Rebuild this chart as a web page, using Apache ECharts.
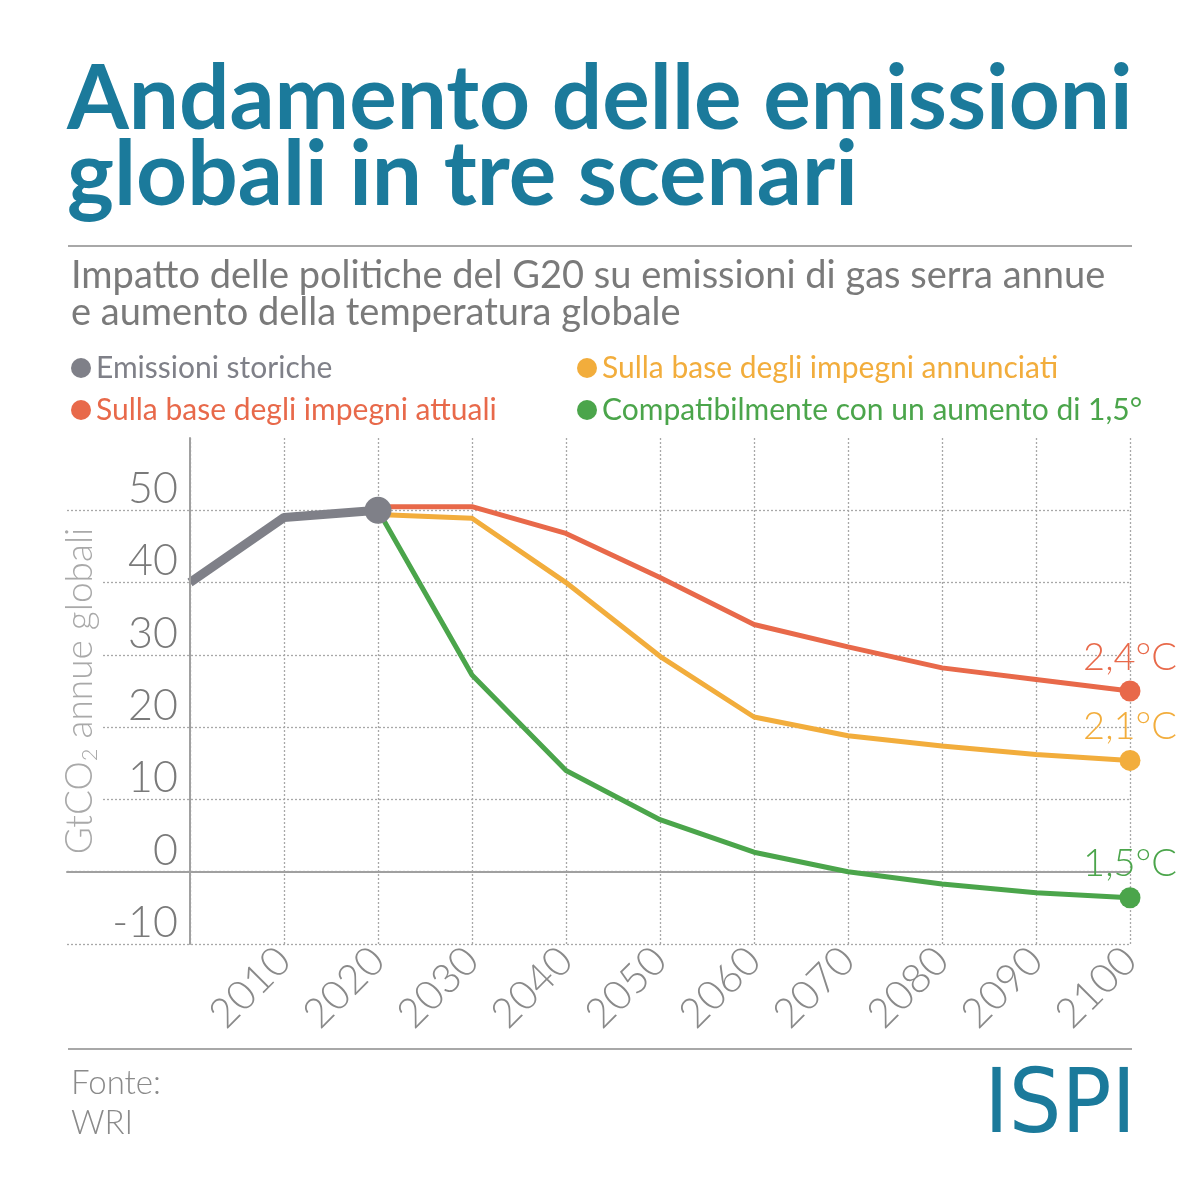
<!DOCTYPE html>
<html>
<head>
<meta charset="utf-8">
<script src="https://cdn.jsdelivr.net/npm/echarts@6/dist/echarts.min.js"></script>
<style>
html,body{margin:0;padding:0;background:#fff;}
#chart{width:1200px;height:1200px;}
</style>
</head>
<body>
<div id="chart"></div>
<script>
// ---- Data ----
const seriesNames = [
  'Emissioni storiche',
  'Sulla base degli impegni attuali',
  'Sulla base degli impegni annunciati',
  'Compatibilmente con un aumento di 1,5°'
];
const historicYears = [2000, 2010, 2020];
const historicValues = [40, 49, 50];
const scenarioYears = [2020, 2030, 2040, 2050, 2060, 2070, 2080, 2090, 2100];
const currentPolicies = [50.5, 50.5, 46.8, 40.7, 34.2, 31.1, 28.2, 26.6, 25.0];
const announcedPledges = [49.4, 48.9, 40.0, 29.8, 21.4, 18.8, 17.4, 16.2, 15.4];
const path15 = [50.0, 27.2, 14.0, 7.2, 2.7, 0.0, -1.7, -2.9, -3.6];
const endLabels = ['2,4°C', '2,1°C', '1,5°C'];
const xTicks = [2000, 2010, 2020, 2030, 2040, 2050, 2060, 2070, 2080, 2090, 2100];
const yTicks = [-10, 0, 10, 20, 30, 40, 50, 60];

// ---- Styling ----
const C = {
  grey: '#7f8088', red: '#e8694a', orange: '#f2ad3c', green: '#4ba54b',
  teal: '#1b7a9b', text: '#7a7a7a', light: '#a9a9a9', grid: '#a8a8a8'
};
const FONT = 'Lato, "Open Sans", sans-serif';

function pairs(xs, ys) { return xs.map((x, i) => [x, ys[i]]); }

function scenario(name, values, color, label) {
  const last = values.length - 1;
  return {
    name, type: 'line', xAxisIndex: 0, yAxisIndex: 0,
    data: pairs(scenarioYears, values),
    color,
    lineStyle: { width: 5, color },
    itemStyle: { color },
    symbol: 'circle', showAllSymbol: true,
    symbolSize: (v, p) => p.dataIndex === last ? 21 : 0,
    label: {
      show: true, position: 'top', distance: 4,
      formatter: p => p.dataIndex === last ? label : '',
      fontFamily: FONT, fontWeight: 300, fontSize: 38, color
    },
    emphasis: { disabled: true },
    z: 3
  };
}

const chart = echarts.init(document.getElementById('chart'), null, { renderer: 'canvas' });
const dotted = { type: [2, 2], width: 1.3, color: C.grid };
const legendText = { fontFamily: FONT, fontSize: 30, lineHeight: 28 };

const option = {
  backgroundColor: '#fff',
  animation: false,
  textStyle: { fontFamily: FONT },
  title: [
    {
      text: 'Andamento delle emissioni\nglobali in tre scenari',
      left: 62, top: 57,
      textStyle: { fontFamily: FONT, fontWeight: 'bold', fontSize: 89, lineHeight: 76, color: C.teal }
    },
    {
      text: 'Impatto delle politiche del G20 su emissioni di gas serra annue\ne aumento della temperatura globale',
      left: 66, top: 252,
      textStyle: { fontFamily: FONT, fontWeight: 'normal', fontSize: 38, lineHeight: 37, color: C.text }
    },
    {
      text: 'Fonte:\nWRI',
      left: 66, top: 1058,
      textStyle: { fontFamily: FONT, fontWeight: 300, fontSize: 33, lineHeight: 40, color: '#8a8a8a' }
    }
  ],
  legend: [
    {
      orient: 'vertical', left: 66, top: 348, itemGap: 12,
      icon: 'circle', itemWidth: 20, itemHeight: 20, itemStyle: { borderWidth: 0 }, selectedMode: false,
      textStyle: legendText,
      data: [
        { name: seriesNames[0], textStyle: { color: C.grey } },
        { name: seriesNames[1], textStyle: { color: C.red } }
      ]
    },
    {
      orient: 'vertical', left: 572, top: 348, itemGap: 12,
      icon: 'circle', itemWidth: 20, itemHeight: 20, itemStyle: { borderWidth: 0 }, selectedMode: false,
      textStyle: legendText,
      data: [
        { name: seriesNames[2], textStyle: { color: C.orange } },
        { name: seriesNames[3], textStyle: { color: C.green } }
      ]
    }
  ],
  grid: [
    { left: 190, right: 70, top: 438, bottom: 256, containLabel: false, outerBoundsMode: 'none' },
    { left: 67, right: 70, top: 438, bottom: 256, containLabel: false, outerBoundsMode: 'none' }
  ],
  xAxis: [
    {
      type: 'value', gridIndex: 0, min: xTicks[0], max: xTicks[xTicks.length - 1], interval: 10,
      axisLine: { show: false, onZero: false },
      axisTick: { show: false },
      splitLine: { show: true, lineStyle: dotted },
      axisLabel: {
        rotate: 45, margin: 10, showMinLabel: false,
        fontFamily: FONT, fontWeight: 300, fontSize: 41, color: '#8a8a8a',
        formatter: v => String(v)
      }
    },
    {
      type: 'value', gridIndex: 1, min: 0, max: 1,
      axisLine: { show: true, onZero: true, lineStyle: { color: '#a0a0a0', width: 2 } },
      axisTick: { show: false }, axisLabel: { show: false }, splitLine: { show: false }
    }
  ],
  yAxis: [
    {
      type: 'value', gridIndex: 0, min: yTicks[0], max: yTicks[yTicks.length - 1], interval: 10, z: 5,
      axisLine: { show: true, lineStyle: { color: '#a0a0a0', width: 2 } },
      axisTick: { show: false },
      splitLine: { show: false },
      axisLabel: {
        showMaxLabel: false, margin: 12, verticalAlign: 'bottom', lineHeight: 42,
        fontFamily: FONT, fontWeight: 300, fontSize: 43, color: C.text
      },
      name: '{a|GtCO}{s|2}{a| annue globali}',
      nameLocation: 'middle', nameRotate: 90, nameGap: 80,
      nameTextStyle: {
        backgroundColor: '#fff',
        rich: {
          a: { fontFamily: FONT, fontWeight: 300, fontSize: 37, color: C.light, lineHeight: 42 },
          s: { fontFamily: FONT, fontWeight: 300, fontSize: 22, color: C.light, verticalAlign: 'bottom', lineHeight: 30 }
        }
      }
    },
    {
      type: 'value', gridIndex: 1, min: yTicks[0], max: yTicks[yTicks.length - 1], interval: 10,
      axisLine: { show: false }, axisTick: { show: false }, axisLabel: { show: false },
      splitLine: { show: true, showMaxLine: false, lineStyle: dotted }
    }
  ],
  series: [
    scenario(seriesNames[1], currentPolicies, C.red, endLabels[0]),
    scenario(seriesNames[2], announcedPledges, C.orange, endLabels[1]),
    scenario(seriesNames[3], path15, C.green, endLabels[2]),
    {
      name: seriesNames[0], type: 'line', xAxisIndex: 0, yAxisIndex: 0,
      data: pairs(historicYears, historicValues),
      color: C.grey,
      lineStyle: { width: 9, color: C.grey },
      itemStyle: { color: C.grey },
      symbol: 'circle', showAllSymbol: true,
      symbolSize: (v, p) => p.dataIndex === historicValues.length - 1 ? 27 : 0,
      emphasis: { disabled: true },
      z: 4
    }
  ],
  graphic: [
    { type: 'line', shape: { x1: 68, y1: 246, x2: 1132, y2: 246 }, style: { stroke: '#a8a8a8', lineWidth: 2 } },
    { type: 'line', shape: { x1: 68, y1: 1049, x2: 1132, y2: 1049 }, style: { stroke: '#a8a8a8', lineWidth: 2 } },
    {
      type: 'text', right: 64, top: 1064, scaleY: 1.08,
      style: { text: 'ISPI', fill: C.teal, font: 'normal 83px "DejaVu Sans", sans-serif' }
    }
  ]
};
chart.setOption(option);
</script>
</body>
</html>
